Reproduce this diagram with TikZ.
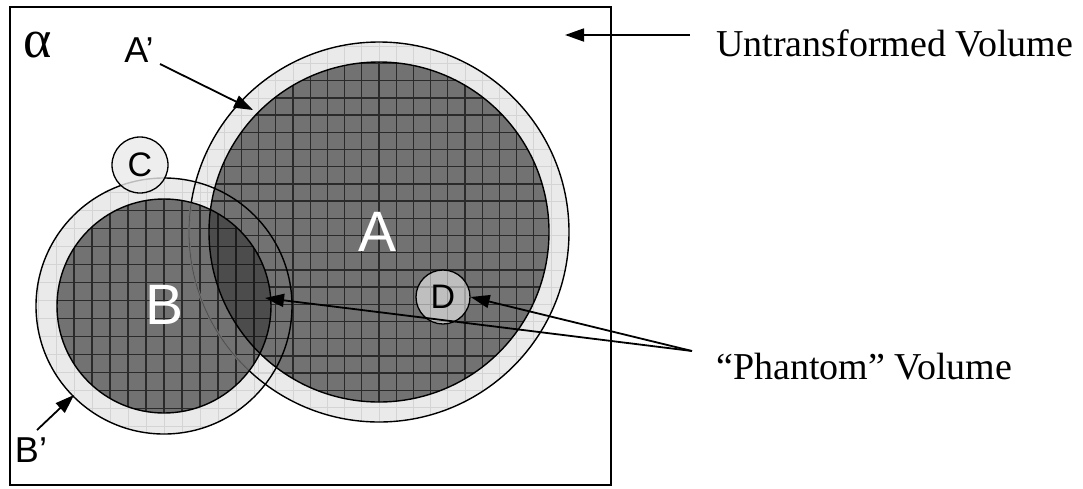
\documentclass[tikz,border=0pt]{standalone}
\usepackage{fontspec}
\setmainfont{Liberation Serif}
\newfontfamily\arialf{Liberation Sans}
\usetikzlibrary{arrows.meta}
\definecolor{ringgray}{HTML}{EAEAEA}
\definecolor{faintgrid}{HTML}{D4D4D4}
\definecolor{innergray}{HTML}{727272}
\definecolor{gridline}{HTML}{2A2A2A}
\begin{document}
\begin{tikzpicture}[x=1pt,y=-1pt,
  ptr/.style={line width=1.8pt,-{Triangle[length=19pt,width=13pt]}},
  outline/.style={line width=1.4pt,black},
  serifbig/.style={font=\fontsize{38}{41}\selectfont, inner sep=0pt, anchor=base west},
  sanslab/.style={font=\arialf\fontsize{36}{38}\selectfont, inner sep=0pt},
  biglab/.style={font=\arialf\fontsize{57}{60}\selectfont, inner sep=0pt, white},
  faint/.style={faintgrid,line width=0.8pt},
  dgrid/.style={gridline,line width=1.3pt},
]
\useasboundingbox (0,0) rectangle (1083,488);
% frame
\draw[line width=2pt] (10,7) rectangle (611,485);
% ring fills
\fill[ringgray] (379,232) circle[radius=190];
\fill[ringgray] (164,306) circle[radius=128];
\begin{scope}
\clip (379,232) circle[radius=190];
\foreach \k in {-12,...,12} {
  \draw[faint] ({379+\k*17.2},30) -- ({379+\k*17.2},430);
  \draw[faint] (180,{235.5+\k*17.2}) -- (580,{235.5+\k*17.2});
}
\end{scope}
\begin{scope}
\clip (164,306) circle[radius=128];
\foreach \k in {-8,...,8} {
  \draw[faint] ({164+\k*18},170) -- ({164+\k*18},440);
  \draw[faint] (30,{300.7+\k*18}) -- (300,{300.7+\k*18});
}
\end{scope}
% inner A
\fill[innergray] (379,232) circle[radius=170];
\begin{scope}
\clip (379,232) circle[radius=170];
\foreach \k in {-11,...,11} {
  \draw[dgrid] ({379+\k*17.2},50) -- ({379+\k*17.2},410);
  \draw[dgrid] (200,{235.5+\k*17.2}) -- (560,{235.5+\k*17.2});
}
\end{scope}
% inner B
\fill[innergray] (164,306) circle[radius=107];
\begin{scope}
\clip (164,306) circle[radius=107];
\foreach \k in {-7,...,7} {
  \draw[dgrid] ({164+\k*18},190) -- ({164+\k*18},420);
  \draw[dgrid] (50,{300.7+\k*18}) -- (280,{300.7+\k*18});
}
\end{scope}
% lens
\begin{scope}
\clip (379,232) circle[radius=170];
\fill[black,opacity=0.33] (164,306) circle[radius=107];
\end{scope}
% outlines
\draw[outline] (379,232) circle[radius=190];
\begin{scope}
\clip (164,306) circle[radius=107];
\draw[innergray,line width=2.6pt] (379,232) circle[radius=190];
\draw[gridline!50!innergray,line width=0.8pt] (379,232) circle[radius=190];
\end{scope}
\draw[outline] (164,306) circle[radius=128];
\draw[outline] (379,232) circle[radius=170];
\draw[outline] (164,306) circle[radius=107];
% small circles
\node[circle, draw, line width=1.3pt, minimum size=56pt, inner sep=0pt,
      fill=ringgray, fill opacity=0.8, text opacity=1,
      font=\arialf\fontsize{34}{36}\selectfont] (C) at (140,165) {C};
\node[circle, draw, line width=1.3pt, minimum size=54pt, inner sep=0pt,
      fill=white, fill opacity=0.55, text opacity=1,
      font=\arialf\fontsize{34}{36}\selectfont] (D) at (443,297) {D};
% labels
\node[font=\fontsize{54}{56}\selectfont, inner sep=0pt] (alpha) at (38,45) {α};
\node[sanslab] (Ap) at (139,50) {A’};
\node[sanslab] (Bp) at (31,450) {B’};
\node[biglab] (Alab) at (378,232) {A};
\node[biglab] (Blab) at (165,305) {B};
\node[serifbig] (untr) at (716,56) {Untransformed Volume};
\node[serifbig] (phan) at (716,379) {“Phantom” Volume};
% arrow coordinates
\coordinate (uS) at (690,35);
\coordinate (uE) at (565,35);
\coordinate (apS) at (160,64);
\coordinate (apE) at (253,110);
\coordinate (bpS) at (37,430);
\coordinate (bpE) at (74,395);
\coordinate (pS) at (692,351);
\coordinate (lensE) at (265,298);
% arrows
\draw[ptr] (uS) -- (uE);
\draw[ptr] (apS) -- (apE);
\draw[ptr] (bpS) -- (bpE);
\draw[ptr] (pS) -- (lensE);
\draw[ptr] (pS) -- (D.east);
\end{tikzpicture}
\end{document}
